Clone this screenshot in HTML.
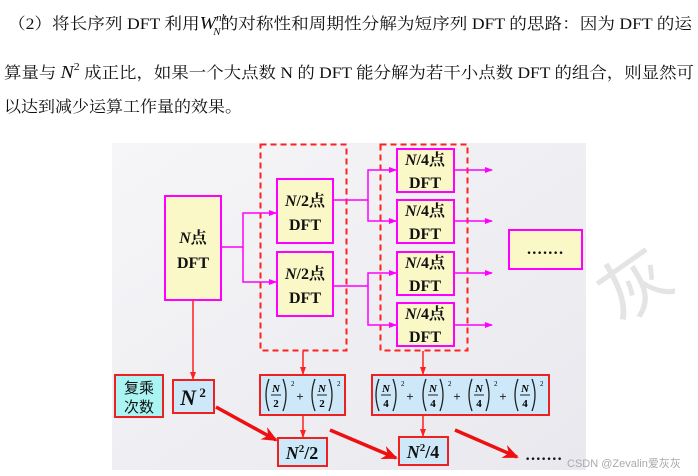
<!DOCTYPE html>
<html><head><meta charset="utf-8"><style>
html,body{margin:0;padding:0;background:#fff;width:698px;height:476px;overflow:hidden}
svg{display:block}
.t{font-family:"Liberation Serif","Noto Serif CJK SC",serif;font-size:16px;fill:#111}
.b{font-family:"Liberation Serif","Noto Serif CJK SC",serif;font-weight:bold;fill:#111;text-anchor:middle}
.bi{font-style:italic}
</style></head><body>
<svg width="698" height="476" viewBox="0 0 698 476" xmlns="http://www.w3.org/2000/svg">
<defs>
<marker id="pm" markerWidth="8" markerHeight="6" refX="7" refY="3" orient="auto" markerUnits="userSpaceOnUse"><path d="M0,0L8,3L0,6z" fill="#ff00ff"/></marker>
<marker id="rm" markerWidth="8" markerHeight="6" refX="7" refY="3" orient="auto" markerUnits="userSpaceOnUse"><path d="M0,0L8,3L0,6z" fill="#ff2020"/></marker>
<marker id="rb" markerWidth="18" markerHeight="14" refX="14" refY="7" orient="auto" markerUnits="userSpaceOnUse"><path d="M0,0L16,7L0,14L5,7z" fill="#ee1010"/></marker>
<linearGradient id="bg" x1="0" y1="0" x2="1" y2="1"><stop offset="0" stop-color="#f6f6f8"/><stop offset="1" stop-color="#e8e8ee"/></linearGradient>
<g id="f2"><path d="M-7,-17Q-13,-1,-7,15M7,-17Q13,-1,7,15" stroke="#222" stroke-width="1.3" fill="none"/><path d="M-5,-1H5" stroke="#222" stroke-width="1"/><text x="0" y="-4" font-style="italic" font-weight="bold" font-size="11" text-anchor="middle" font-family="Liberation Serif,serif">N</text><text x="0" y="11" font-weight="bold" font-size="11" text-anchor="middle" font-family="Liberation Serif,serif">2</text><text x="15" y="-10" font-size="7" font-family="Liberation Serif,serif">2</text></g>
<g id="f4"><path d="M-7,-17Q-13,-1,-7,15M7,-17Q13,-1,7,15" stroke="#222" stroke-width="1.3" fill="none"/><path d="M-5,-1H5" stroke="#222" stroke-width="1"/><text x="0" y="-4" font-style="italic" font-weight="bold" font-size="11" text-anchor="middle" font-family="Liberation Serif,serif">N</text><text x="0" y="11" font-weight="bold" font-size="11" text-anchor="middle" font-family="Liberation Serif,serif">4</text><text x="15" y="-10" font-size="7" font-family="Liberation Serif,serif">2</text></g>
</defs>
<text class="t" x="8" y="29" textLength="684" lengthAdjust="spacingAndGlyphs">（2）将长序列 DFT 利用<tspan font-style="italic" font-size="18">W</tspan><tspan font-style="italic" font-size="10" dy="-8">nk</tspan><tspan font-style="italic" font-size="10" dx="-12" dy="14">N</tspan><tspan dy="-6">的对称性和周期性分解为短序列 DFT 的思路：因为 DFT 的运</tspan></text>
<text class="t" x="4" y="78" textLength="690" lengthAdjust="spacingAndGlyphs">算量与 <tspan font-style="italic" font-size="18">N</tspan><tspan font-size="11" dy="-8">2</tspan><tspan dy="8"> 成正比，如果一个大点数 N 的 DFT 能分解为若干小点数 DFT 的组合，则显然可</tspan></text>
<text class="t" x="4" y="112" textLength="238" lengthAdjust="spacingAndGlyphs">以达到减少运算工作量的效果。</text>

<rect x="112" y="143" width="474" height="327" fill="url(#bg)"/>
<g fill="#e4e4e4" font-family="Noto Sans CJK SC,sans-serif" font-size="70"><text x="600" y="310" transform="rotate(-35 635 285)">灰</text></g>

<rect x="260.5" y="144.5" width="86" height="206" fill="none" stroke="#ff2020" stroke-width="2" stroke-dasharray="6,4"/>
<rect x="380.5" y="144.5" width="87" height="206" fill="none" stroke="#ff2020" stroke-width="2" stroke-dasharray="6,4"/>

<g stroke="#ff00ff" stroke-width="1.5" fill="none">
<path d="M221,247H243V213H276" marker-end="url(#pm)"/>
<path d="M243,247V282H276" marker-end="url(#pm)"/>
<path d="M333,200H368V170H396" marker-end="url(#pm)"/>
<path d="M368,200V221H396" marker-end="url(#pm)"/>
<path d="M333,286H368V273H396" marker-end="url(#pm)"/>
<path d="M368,286V325H396" marker-end="url(#pm)"/>
<path d="M454,170H492" marker-end="url(#pm)"/>
<path d="M454,221H492" marker-end="url(#pm)"/>
<path d="M454,273H492" marker-end="url(#pm)"/>
<path d="M454,325H492" marker-end="url(#pm)"/>
</g>

<g fill="#fbf8c8" stroke="#ff00ff" stroke-width="2">
<rect x="165" y="196" width="56" height="104"/>
<rect x="277" y="179" width="56" height="64"/>
<rect x="277" y="252" width="56" height="64"/>
<rect x="397" y="149" width="57" height="43"/>
<rect x="397" y="200" width="57" height="43"/>
<rect x="397" y="252" width="57" height="43"/>
<rect x="397" y="303" width="57" height="43"/>
<rect x="509" y="230" width="73" height="39"/>
</g>
<g class="b" font-size="16">
<text x="193" y="243"><tspan class="bi">N</tspan>点</text><text x="193" y="268">DFT</text>
<text x="305" y="206"><tspan class="bi">N</tspan>/2点</text><text x="305" y="230">DFT</text>
<text x="305" y="279"><tspan class="bi">N</tspan>/2点</text><text x="305" y="303">DFT</text>
<text x="425" y="165"><tspan class="bi">N</tspan>/4点</text><text x="425" y="188">DFT</text>
<text x="425" y="216"><tspan class="bi">N</tspan>/4点</text><text x="425" y="239">DFT</text>
<text x="425" y="268"><tspan class="bi">N</tspan>/4点</text><text x="425" y="291">DFT</text>
<text x="425" y="319"><tspan class="bi">N</tspan>/4点</text><text x="425" y="342">DFT</text>
<text x="545" y="258">·······</text>
</g>

<g stroke="#ff2020" stroke-width="1.5" fill="none">
<path d="M193,300V379" marker-end="url(#rm)"/>
<path d="M303,351V374" marker-end="url(#rm)"/>
<path d="M303,415V437" marker-end="url(#rm)"/>
<path d="M423,351V374" marker-end="url(#rm)"/>
<path d="M423,415V436" marker-end="url(#rm)"/>
</g>

<rect x="115" y="375" width="48" height="42" fill="#aaf4f4" stroke="#ee2020" stroke-width="2"/>
<g fill="#cde8f8" stroke="#ee2020" stroke-width="2">
<rect x="173" y="380" width="41" height="33"/>
<rect x="260" y="375" width="85" height="40"/>
<rect x="278" y="438" width="49" height="28"/>
<rect x="372" y="375" width="177" height="40"/>
<rect x="399" y="437" width="49" height="28"/>
</g>
<g class="b">
<text x="139" y="393" font-size="15" font-family="Noto Sans CJK SC,sans-serif" font-weight="normal">复乘</text>
<text x="139" y="412" font-size="15" font-family="Noto Sans CJK SC,sans-serif" font-weight="normal">次数</text>
<text x="193" y="405" font-size="22"><tspan class="bi">N</tspan><tspan font-size="13" dy="-8"> 2</tspan></text>
<text x="302" y="459" font-size="18"><tspan class="bi">N</tspan><tspan font-size="11" dy="-7">2</tspan><tspan dy="7">/2</tspan></text>
<text x="423" y="458" font-size="18"><tspan class="bi">N</tspan><tspan font-size="11" dy="-7">2</tspan><tspan dy="7">/4</tspan></text>
</g>

<use href="#f2" x="276" y="396"/>
<use href="#f2" x="322" y="396"/>
<use href="#f4" x="386" y="396"/>
<use href="#f4" x="433" y="396"/>
<use href="#f4" x="479" y="396"/>
<use href="#f4" x="525" y="396"/>
<g font-family="Liberation Serif,serif" font-size="13" font-weight="bold" fill="#222" text-anchor="middle">
<text x="300" y="401">+</text>
<text x="410" y="401">+</text>
<text x="457" y="401">+</text>
<text x="503" y="401">+</text>
</g>

<g stroke="#ee1010" stroke-width="3.5" fill="none">
<path d="M216,407L276,440" marker-end="url(#rb)"/>
<path d="M330,430L396,458" marker-end="url(#rb)"/>
<path d="M455,430L517,457" marker-end="url(#rb)"/>
</g>
<text x="525" y="464" font-family="Liberation Serif,serif" font-weight="bold" font-size="16" fill="#111">·······</text>
<text x="567" y="467" font-family="Liberation Sans,Noto Sans CJK SC,sans-serif" font-size="11" fill="#aaa">CSDN @Zevalin爱灰灰</text>
</svg>
</body></html>
